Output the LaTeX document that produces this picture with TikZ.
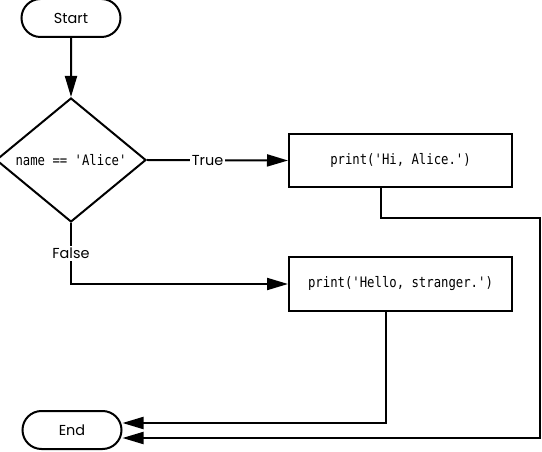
\documentclass[tikz,border=0pt]{standalone}
\usepackage{fontspec}
\setmainfont{Poppins}
\newfontfamily\codefont[FakeStretch=0.85]{DejaVu Sans Mono}
\usetikzlibrary{shapes.geometric,shapes.misc,arrows.meta}
\begin{document}
\begin{tikzpicture}[x=1bp,y=-1bp,
  line width=2bp,
  >={Triangle[length=21bp,width=12bp]},
  term/.style={draw,rounded rectangle,minimum width=99bp,minimum height=38bp,inner sep=0pt,font=\fontsize{14.5}{16}\selectfont},
  decis/.style={draw,diamond,minimum width=150bp,minimum height=124bp,inner sep=0pt,font=\codefont\fontsize{14.5}{16}\selectfont},
  procbox/.style={draw,rectangle,minimum width=223bp,minimum height=53bp,inner sep=0pt,font=\codefont\fontsize{14.5}{16}\selectfont},
  lbl/.style={fill=white,inner sep=2bp,font=\fontsize{14.5}{16}\selectfont}
]
\useasboundingbox (0,0) rectangle (542,452);
\node[term] (start) at (71,18) {Start};
\node[decis] (dec) at (71,160) {name == 'Alice'};
\node[procbox] (b1) at (400.5,160.5) {print('Hi, Alice.')};
\node[procbox] (b2) at (400.5,284) {print('Hello, stranger.')};
\node[term] (end) at (72,430) {End};
\coordinate (r1) at (540,218);

\draw[->] (start) -- (dec);
\draw[->] (dec.east) -- node[lbl,pos=0.43] {True} (b1.west);
\draw[->] (dec.south) |- node[lbl,pos=0.25] {False} (b2.west);
\draw[->] ([xshift=-19.5bp]b1.south) |- (r1) |- ([yshift=-8bp]end.east);
\draw[->] ([xshift=-14.5bp]b2.south) |- ([yshift=7bp]end.east);
\end{tikzpicture}
\end{document}
